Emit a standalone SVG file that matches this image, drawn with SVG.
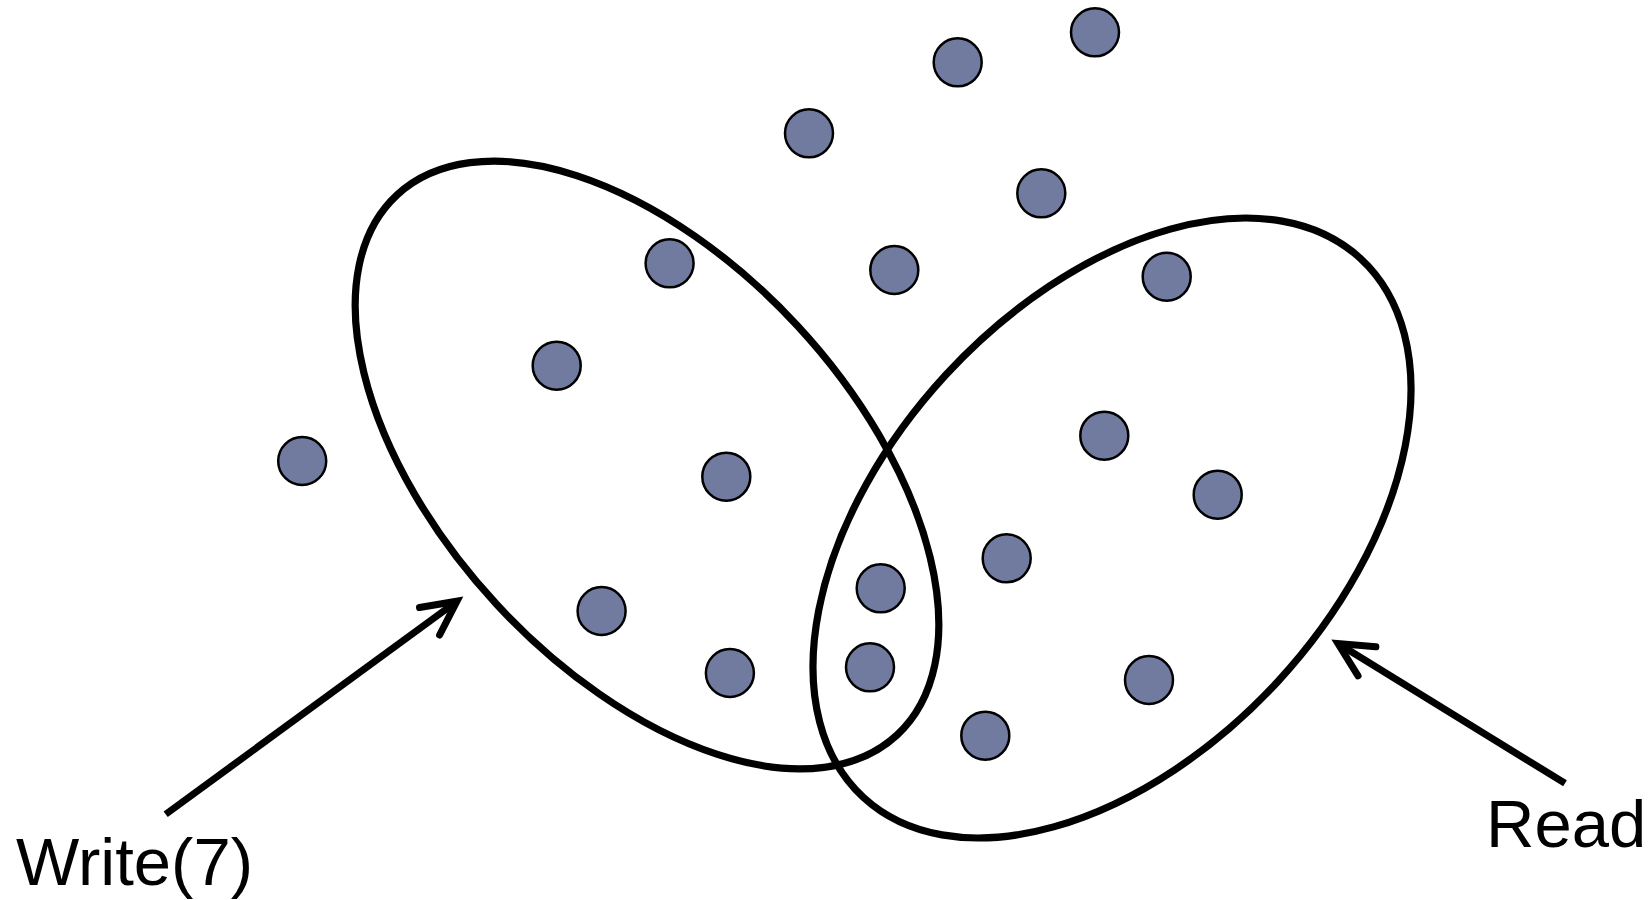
<svg xmlns="http://www.w3.org/2000/svg" width="1649" height="900" viewBox="0 0 1649 900">
<style>
.set{fill:none;stroke:#000;stroke-width:7.2}
.dot{fill:#717ba0;stroke:#000;stroke-width:2.5}
.arrow{fill:none;stroke:#000;stroke-width:7}
.label{font-family:"Liberation Sans",Arial,sans-serif;font-size:67px;fill:#000}
</style>
<defs>
<marker id="head" markerUnits="userSpaceOnUse" viewBox="-45 -25 55 50" markerWidth="55" markerHeight="50" refX="0" refY="0" orient="auto" overflow="visible">
<path d="M -34 -17 L 0 0 L -34 17" fill="none" stroke="#000" stroke-width="7" stroke-linecap="round" stroke-linejoin="miter"/>
</marker>
</defs>
<rect width="1649" height="900" fill="#fff"/>
<g id="write-set"><ellipse class="set" cx="647" cy="465" rx="368" ry="205" transform="rotate(47.2 647 465)"/></g>
<g id="read-set"><ellipse class="set" cx="1112" cy="528" rx="366.6" ry="226" transform="rotate(-47.3 1112 528)"/></g>
<g id="dots">
<circle id="d1" class="dot" cx="1095" cy="32.3" r="24"/>
<circle id="d2" class="dot" cx="957.7" cy="62.3" r="24"/>
<circle id="d3" class="dot" cx="809" cy="133.3" r="24"/>
<circle id="d4" class="dot" cx="1041.3" cy="193.3" r="24"/>
<circle id="d5" class="dot" cx="894.3" cy="270" r="24"/>
<circle id="d6" class="dot" cx="1166.7" cy="276.7" r="24"/>
<circle id="d7" class="dot" cx="669.6" cy="263.3" r="24"/>
<circle id="d8" class="dot" cx="556.7" cy="365.7" r="24"/>
<circle id="d9" class="dot" cx="302.2" cy="461" r="24"/>
<circle id="d10" class="dot" cx="726.3" cy="476.7" r="24"/>
<circle id="d11" class="dot" cx="601.6" cy="611" r="24"/>
<circle id="d12" class="dot" cx="729.9" cy="673" r="24"/>
<circle id="d13" class="dot" cx="880.7" cy="588.3" r="24"/>
<circle id="d14" class="dot" cx="870" cy="667.3" r="24"/>
<circle id="d15" class="dot" cx="1006.7" cy="558.3" r="24"/>
<circle id="d16" class="dot" cx="1104.3" cy="435.7" r="24"/>
<circle id="d17" class="dot" cx="1217.7" cy="494.7" r="24"/>
<circle id="d18" class="dot" cx="1149" cy="680" r="24"/>
<circle id="d19" class="dot" cx="985.3" cy="735.7" r="24"/>
</g>
<g id="connectors">
<line class="arrow" x1="165.7" y1="814.3" x2="457" y2="601.2" marker-end="url(#head)"/>
<line class="arrow" x1="1565" y1="783.3" x2="1338" y2="643.5" marker-end="url(#head)"/>
</g>
<g id="labels">
<text id="write-label" class="label" x="16" y="885">Write(7)</text>
<text id="read-label" class="label" x="1486" y="846.7">Read</text>
</g>
</svg>
